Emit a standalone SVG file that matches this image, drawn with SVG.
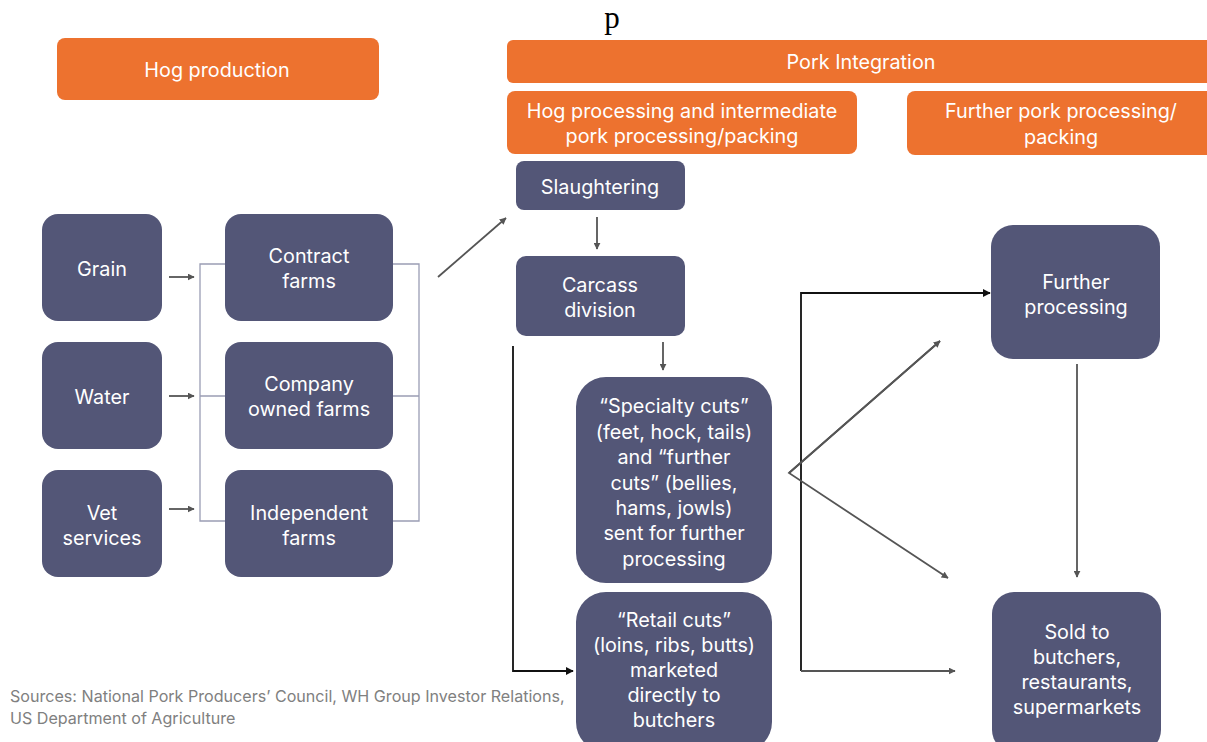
<svg xmlns="http://www.w3.org/2000/svg" width="1207" height="742" viewBox="0 0 1207 742">
<defs>
<style>
.hdr{fill:#ED722F}
.nd{fill:#535677}
.t{font-family:Inter,"Open Sans",sans-serif;font-size:19.8px;fill:#fff;text-anchor:middle}
.br{fill:none;stroke:#9a9db4;stroke-width:1.3}
.c{fill:none;stroke:#555;stroke-width:1.8}
.k{fill:none;stroke:#111;stroke-width:1.8}
.src{font-family:Inter,"Open Sans",sans-serif;font-size:16.1px;fill:#808080}
</style>
<marker id="ag" viewBox="0 0 10 10" refX="9" refY="5" markerWidth="7" markerHeight="7" orient="auto" markerUnits="userSpaceOnUse"><path d="M0,0 L10,5 L0,10 z" fill="#555"/></marker>
<marker id="ak" viewBox="0 0 10 10" refX="9" refY="5" markerWidth="8" markerHeight="8" orient="auto" markerUnits="userSpaceOnUse"><path d="M0,0 L10,5 L0,10 z" fill="#111"/></marker>
</defs>
<rect width="1207" height="742" fill="#fff"/>
<text x="612" y="28" font-family="Liberation Serif,serif" font-size="31" text-anchor="middle" fill="#000">p</text>

<g id="hog-production"><rect class="hdr" x="57" y="38" width="322" height="62" rx="8"/><text class="t" x="217" y="77">Hog production</text></g>
<g id="pork-integration"><rect class="hdr" x="507" y="40" width="710" height="43" rx="6"/><text class="t" x="861" y="69">Pork Integration</text></g>
<g id="hog-processing"><rect class="hdr" x="507" y="91" width="350" height="63" rx="8"/><text class="t" x="682" y="118">Hog processing and intermediate</text><text class="t" x="682" y="143">pork processing/packing</text></g>
<g id="further-pork"><rect class="hdr" x="907" y="91" width="310" height="64" rx="8"/><text class="t" x="1061" y="118">Further pork processing/</text><text class="t" x="1061" y="144">packing</text></g>

<g id="grain"><rect class="nd" x="42" y="214" width="120" height="107" rx="16"/><text class="t" x="102" y="276">Grain</text></g>
<g id="water"><rect class="nd" x="42" y="342" width="120" height="107" rx="16"/><text class="t" x="102" y="404">Water</text></g>
<g id="vet"><rect class="nd" x="42" y="470" width="120" height="107" rx="16"/><text class="t" x="102" y="520">Vet</text><text class="t" x="102" y="545">services</text></g>
<g id="contract"><rect class="nd" x="225" y="214" width="168" height="107" rx="16"/><text class="t" x="309" y="263">Contract</text><text class="t" x="309" y="288">farms</text></g>
<g id="company"><rect class="nd" x="225" y="342" width="168" height="107" rx="16"/><text class="t" x="309" y="391">Company</text><text class="t" x="309" y="416">owned farms</text></g>
<g id="independent"><rect class="nd" x="225" y="470" width="168" height="107" rx="16"/><text class="t" x="309" y="520">Independent</text><text class="t" x="309" y="545">farms</text></g>

<g id="slaughtering"><rect class="nd" x="516" y="161" width="169" height="49" rx="8"/><text class="t" x="600" y="194">Slaughtering</text></g>
<g id="carcass"><rect class="nd" x="516" y="256" width="169" height="80" rx="10"/><text class="t" x="600" y="292">Carcass</text><text class="t" x="600" y="317">division</text></g>
<g id="specialty"><rect class="nd" x="576" y="377" width="196" height="206" rx="30"/>
<text class="t" x="674" y="413">“Specialty cuts”</text><text class="t" x="674" y="439">(feet, hock, tails)</text><text class="t" x="674" y="464">and “further</text><text class="t" x="674" y="490">cuts” (bellies,</text><text class="t" x="674" y="515">hams, jowls)</text><text class="t" x="674" y="540">sent for further</text><text class="t" x="674" y="566">processing</text></g>
<g id="retail"><rect class="nd" x="576" y="592" width="196" height="160" rx="30"/>
<text class="t" x="674" y="627">“Retail cuts”</text><text class="t" x="674" y="652">(loins, ribs, butts)</text><text class="t" x="674" y="677">marketed</text><text class="t" x="674" y="702">directly to</text><text class="t" x="674" y="727">butchers</text></g>
<g id="further-processing"><rect class="nd" x="991" y="225" width="169" height="134" rx="22"/><text class="t" x="1076" y="289">Further</text><text class="t" x="1076" y="314">processing</text></g>
<g id="sold"><rect class="nd" x="992" y="592" width="169" height="160" rx="22"/><text class="t" x="1077" y="639">Sold to</text><text class="t" x="1077" y="664">butchers,</text><text class="t" x="1077" y="689">restaurants,</text><text class="t" x="1077" y="714">supermarkets</text></g>

<g id="connectors">
<path class="br" d="M225,264 H200 V521 H225 M200,396 H225"/>
<path class="br" d="M393,264 H419 V521 H393 M393,396 H419"/>
<line class="c" x1="169" y1="277" x2="194" y2="277" marker-end="url(#ag)"/>
<line class="c" x1="169" y1="396" x2="194" y2="396" marker-end="url(#ag)"/>
<line class="c" x1="169" y1="509" x2="194" y2="509" marker-end="url(#ag)"/>
<line class="c" x1="438" y1="277" x2="506" y2="218" marker-end="url(#ag)"/>
<line class="c" x1="597" y1="217" x2="597" y2="249" marker-end="url(#ag)"/>
<line class="c" x1="663" y1="342" x2="663" y2="370" marker-end="url(#ag)"/>
<path class="k" d="M513,346 V671 H573" marker-end="url(#ak)"/>
<path class="k" d="M801,671 V293 H990" marker-end="url(#ak)"/>
<line class="c" x1="801" y1="671" x2="955" y2="671" marker-end="url(#ag)"/>
<path class="c" d="M940,341 L789,473 L948,578" marker-end="url(#ag)"/>
<line class="c" x1="789" y1="473" x2="940" y2="341" marker-end="url(#ag)"/>
<line class="c" x1="1077" y1="364" x2="1077" y2="577" marker-end="url(#ag)"/>
</g>
<text class="src" x="10" y="702">Sources: National Pork Producers’ Council, WH Group Investor Relations,</text>
<text class="src" x="10" y="724">US Department of Agriculture</text>
</svg>
